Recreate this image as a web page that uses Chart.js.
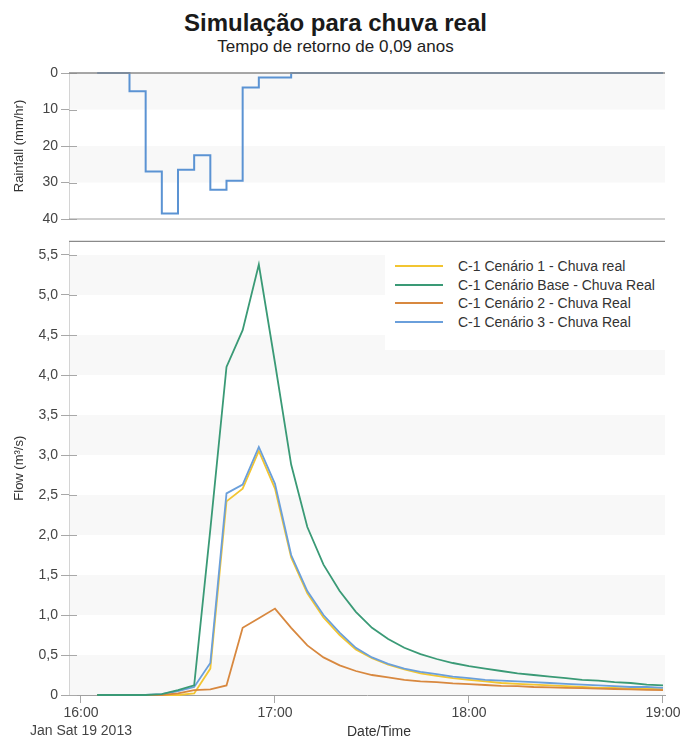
<!DOCTYPE html>
<html><head><meta charset="utf-8">
<script src="https://cdn.jsdelivr.net/npm/chart.js@4.4.1/dist/chart.umd.min.js"></script>
<style>
html,body{margin:0;padding:0;background:#fff;}
#wrap{position:relative;width:684px;height:740px;overflow:hidden;font-family:"Liberation Sans",Arial,sans-serif;color:#222;}
canvas{position:absolute;left:0;}
#title{position:absolute;left:0;width:671px;top:9px;text-align:center;font-weight:bold;font-size:24px;line-height:28px;color:#1a1a1a;}
#subtitle{position:absolute;left:0;width:671px;top:37px;text-align:center;font-size:17px;line-height:20px;color:#222;}
#legend{position:absolute;left:385px;top:250px;width:280px;height:100px;background:#fff;padding-top:7px;box-sizing:border-box;}
.lrow{position:relative;height:18.5px;font-size:14px;line-height:18.5px;color:#333;white-space:nowrap;}
.lrow span.ln{position:absolute;left:10px;top:8px;width:48px;height:2px;}
.lrow span.tx{position:absolute;left:73px;top:0;}
#xtitle{position:absolute;left:347px;top:722px;font-size:14px;line-height:18px;color:#333;}
</style></head><body>
<div id="wrap">
 <div id="title">Simulação para chuva real</div>
 <div id="subtitle">Tempo de retorno de 0,09 anos</div>
 <canvas id="rain" width="684" height="175" style="top:60px;width:684px;height:175px"></canvas>
 <canvas id="flow" width="684" height="510" style="top:230px;width:684px;height:510px"></canvas>
 <div id="legend"></div>
 <div id="xtitle">Date/Time</div>
</div>
<script>
// ---- data (5-minute steps, Jan Sat 19 2013) ----
const times = ["16:05","16:10","16:15","16:20","16:25","16:30","16:35","16:40","16:45","16:50","16:55","17:00",
               "17:05","17:10","17:15","17:20","17:25","17:30","17:35","17:40","17:45","17:50","17:55","18:00",
               "18:05","18:10","18:15","18:20","18:25","18:30","18:35","18:40","18:45","18:50","18:55","19:00"];
// rainfall intensity of the interval ending at each time
const rainfall = [0,0,5,27,38.5,26.5,22.5,32,29.5,4,1.2,1.2,
                  0,0,0,0,0,0,0,0,0,0,0,0,
                  0,0,0,0,0,0,0,0,0,0,0,0];
const flowCenario1 = [0,0,0,0,0,0,0.02,0.33,2.42,2.58,3.05,2.58,
                      1.72,1.27,0.97,0.75,0.57,0.46,0.38,0.32,0.27,0.24,0.21,0.19,
                      0.17,0.15,0.14,0.13,0.12,0.11,0.1,0.09,0.09,0.08,0.08,0.07];
const flowBase = [0,0,0,0,0.01,0.06,0.12,2.07,4.1,4.56,5.38,4.15,
                  2.88,2.1,1.63,1.3,1.04,0.84,0.7,0.59,0.51,0.45,0.4,0.36,
                  0.33,0.3,0.27,0.25,0.23,0.21,0.19,0.18,0.16,0.15,0.13,0.12];
const flowCenario2 = [0,0,0,0,0,0.02,0.06,0.07,0.12,0.84,0.96,1.08,
                      0.84,0.62,0.47,0.37,0.3,0.25,0.22,0.19,0.17,0.16,0.145,0.135,
                      0.125,0.115,0.11,0.1,0.095,0.09,0.085,0.08,0.075,0.07,0.065,0.06];
const flowCenario3 = [0,0,0,0,0.01,0.05,0.1,0.4,2.52,2.63,3.1,2.64,
                      1.75,1.3,1.0,0.78,0.59,0.47,0.39,0.33,0.29,0.26,0.23,0.21,
                      0.19,0.18,0.17,0.16,0.15,0.14,0.13,0.12,0.11,0.1,0.1,0.09];
const seriesLabels = ["C-1 Cenário 1 - Chuva real","C-1 Cenário Base - Chuva Real","C-1 Cenário 2 - Chuva Real","C-1 Cenário 3 - Chuva Real"];
const xTickLabels = {0:["16:00","Jan Sat 19 2013"],60:"17:00",120:"18:00",180:"19:00"};

// ---- helpers ----
const toMin = t => { const [h,m] = t.split(":").map(Number); return (h-16)*60 + m; };
const pts = arr => times.map((t,i)=>({x:toMin(t), y:arr[i]}));
const X_MIN = -3.71, X_MAX = 180.62;
const FONT = "'Liberation Sans', Arial, sans-serif";

const bandsPlugin = {
  id:'bands',
  beforeDraw(chart, args, opts){
    const {ctx, chartArea:{left,right}, scales:{y}} = chart;
    const ticks = y.ticks.map(t=>t.value);
    ctx.save(); ctx.fillStyle = opts.color;
    for (let i=0;i<ticks.length-1;i++){
      if (i%2 !== opts.parity) continue;
      const y1 = y.getPixelForValue(ticks[i]), y2 = y.getPixelForValue(ticks[i+1]);
      ctx.fillRect(left, Math.min(y1,y2), right-left, Math.abs(y2-y1));
    }
    ctx.restore();
  }
};
const innerTicks = {
  id:'innerTicks',
  beforeDatasetsDraw(chart){
    const {ctx, chartArea:{left}, scales:{y}} = chart;
    ctx.save(); ctx.strokeStyle = '#a8a8a8'; ctx.lineWidth = 1;
    y.ticks.forEach(t=>{ const p = Math.round(y.getPixelForValue(t.value))+0.5;
      ctx.beginPath(); ctx.moveTo(left, p); ctx.lineTo(left+8, p); ctx.stroke(); });
    ctx.restore();
  }
};
const frameLines = {
  id:'frameLines',
  afterDatasetsDraw(chart, args, opts){
    const {ctx, chartArea:{left,right,top,bottom}} = chart;
    ctx.save();
    (opts.lines||[]).forEach(l=>{
      const yy = l.edge==='top'? top : bottom;
      ctx.strokeStyle = l.color; ctx.lineWidth = l.width;
      ctx.beginPath(); ctx.moveTo(left, yy); ctx.lineTo(right, yy); ctx.stroke();
    });
    ctx.restore();
  }
};

const yAfterFit = s => { s.width = 69; };

// ---- rainfall chart ----
new Chart(document.getElementById('rain'), {
  type:'line',
  data:{ datasets:[{ label:'Rainfall', data: pts(rainfall), borderColor:'#5b93d3', borderWidth:2,
          pointRadius:0, stepped:'before', clip:false, fill:false }] },
  options:{
    responsive:false, animation:false, devicePixelRatio:1,
    layout:{ padding:{ top:13, right:19, bottom:16, left:0 } },
    plugins:{ legend:{display:false}, tooltip:{enabled:false},
      bands:{ color:'#f8f8f8', parity:1 },
      frameLines:{ lines:[{edge:'top', color:'#8a8a8a', width:1.5},{edge:'bottom', color:'#a0a0a0', width:1}] } },
    scales:{
      x:{ type:'linear', min:X_MIN, max:X_MAX, display:false },
      y:{ reverse:true, min:0, max:40, afterFit:yAfterFit,
          ticks:{ stepSize:10, color:'#444', padding:3, font:{family:FONT, size:14} },
          grid:{ drawOnChartArea:false, tickLength:8, color:'#a8a8a8' },
          border:{ color:'#d4d4d4' },
          title:{ display:true, text:'Rainfall (mm/hr)', color:'#333', font:{family:FONT, size:13}, padding:{top:12,bottom:0} } }
    }
  },
  plugins:[bandsPlugin, innerTicks, frameLines]
});

// ---- flow chart ----
const colors = ['#f2c531','#3a9a76','#d8883f','#6a9fdb'];
const flowSeries = [flowCenario1, flowBase, flowCenario2, flowCenario3];
const drawOrder = [3,0,1,2];
new Chart(document.getElementById('flow'), {
  type:'line',
  data:{ datasets: flowSeries.map((arr,i)=>({ label:seriesLabels[i], data:pts(arr), borderColor:colors[i],
          borderWidth:1.8, pointRadius:0, tension:0, clip:false, fill:false, order:drawOrder[i] })) },
  options:{
    responsive:false, animation:false, devicePixelRatio:1,
    layout:{ padding:{ top:8, right:19, bottom:0, left:0 } },
    plugins:{ legend:{display:false}, tooltip:{enabled:false},
      bands:{ color:'#f8f8f8', parity:0 },
      frameLines:{ lines:[{edge:'top', color:'#8a8a8a', width:1.2}] } },
    scales:{
      x:{ type:'linear', min:X_MIN, max:X_MAX, afterFit:s=>{ s.height = 45; },
          ticks:{ stepSize:60, includeBounds:false, maxRotation:0, autoSkip:false, color:'#444', padding:1,
                  font:{family:FONT, size:14, lineHeight:1.3},
                  callback:v => xTickLabels[v] ?? '' },
          grid:{ drawOnChartArea:false, tickLength:8, color:'#a8a8a8' },
          border:{ color:'#a0a0a0' } },
      y:{ min:0, max:5.67, afterFit:yAfterFit,
          ticks:{ stepSize:0.5, includeBounds:false, color:'#444', padding:3, font:{family:FONT, size:14},
                  callback:v => v===0 ? '0' : v.toFixed(1).replace('.',',') },
          grid:{ drawOnChartArea:false, tickLength:8, color:'#a8a8a8' },
          border:{ color:'#d4d4d4' },
          title:{ display:true, text:'Flow (m³/s)', color:'#333', font:{family:FONT, size:13}, padding:{top:12,bottom:0} } }
    }
  },
  plugins:[bandsPlugin, innerTicks, frameLines]
});

// ---- legend ----
const lg = document.getElementById('legend');
seriesLabels.forEach((lab,i)=>{
  const r = document.createElement('div'); r.className='lrow';
  r.innerHTML = '<span class="ln" style="background:'+colors[i]+'"></span><span class="tx"></span>';
  r.querySelector('.tx').textContent = lab;
  lg.appendChild(r);
});
</script>
</body></html>
